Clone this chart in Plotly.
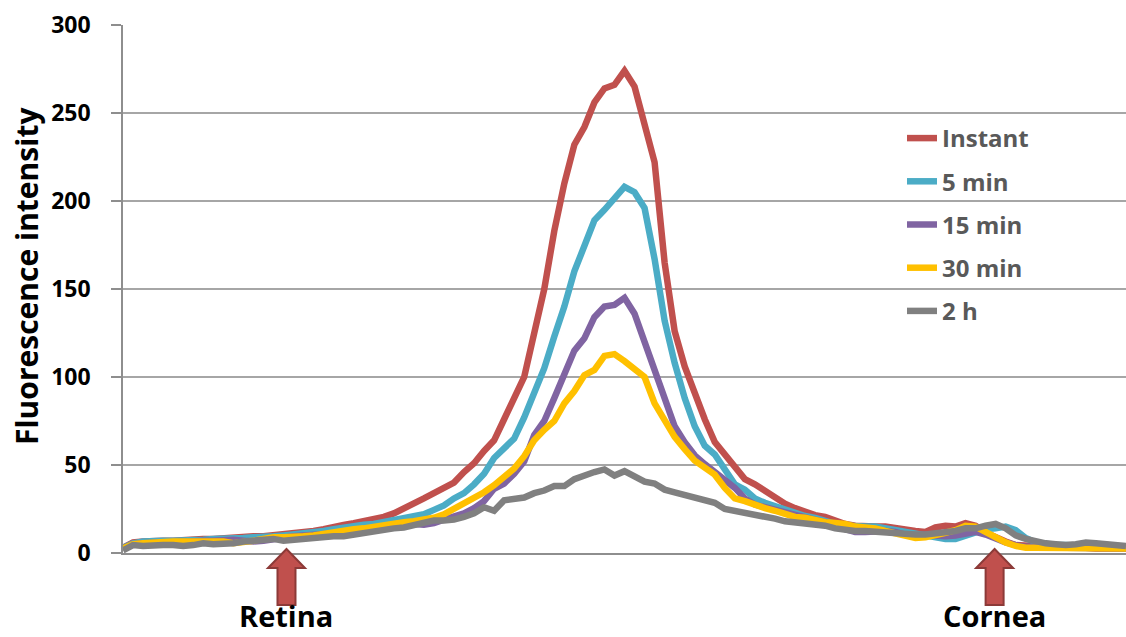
import plotly.graph_objects as go

# Sample positions along the scan line (retina -> cornea)
position = list(range(101))

instant = [3, 6, 6.5, 7, 7, 7, 7.5, 7.5, 8, 8,
           8.5, 8.5, 9, 9.5, 9.5, 10, 10.5, 11, 12, 12.5,
           13.5, 15, 16, 17, 18, 19, 20.5, 22.5, 25, 28,
           31, 34, 37, 40, 46, 51, 58, 64, 76, 87,
           100, 125, 150, 183, 210, 232, 242, 256, 264, 266,
           274, 265, 245, 222, 165, 126, 106, 90, 76, 63,
           56, 49, 42, 39, 35, 31, 28, 25.5, 23, 21.5,
           20.5, 18, 16.5, 15.5, 15, 15, 15, 14, 13, 12.5,
           12, 14.5, 15.5, 15, 17, 15.5, 11.5, 8.5, 6.5, 4.5,
           4, 3.5, 3.5, 3.5, 3.5, 3, 3, 2.5, 2.5, 2.5, 2.5]

min5 = [3, 5.5, 6.5, 7, 7, 7, 7, 7.5, 7.5, 8,
        8, 8.5, 8.5, 9, 9, 9.5, 10, 10.5, 11, 11.5,
        12.5, 13.5, 14.5, 15.5, 16, 16.5, 17.5, 18.5, 20, 21,
        22, 24.5, 27, 31, 34, 39, 45, 54, 59, 65,
        77, 90, 105, 123, 140, 160, 174, 189, 195, 201,
        208, 205, 196, 167, 132, 108, 88, 72, 61, 56,
        47, 39, 36, 31, 28.5, 26.5, 24.5, 22.5, 21, 20,
        18, 16.5, 15.5, 15, 15, 15, 14, 13, 11.5, 10.5,
        10, 9, 8, 8, 10, 12, 13.5, 14, 15, 13,
        8.5, 6, 5, 4.5, 4.5, 4, 4, 4, 3.5, 3.5, 3.5]

min15 = [2.5, 5, 5.5, 6, 6, 6, 6.5, 6.5, 7, 7,
         7.5, 7.5, 7, 6.5, 7, 8, 8.5, 9.5, 10, 10.5,
         11, 11, 11.5, 12, 12, 13, 14, 15, 15.5, 16.5,
         16, 17, 19, 20.5, 22.5, 25.5, 29.5, 36.5, 39.5, 45,
         52, 67, 75, 88, 102, 115, 122, 134, 140, 141,
         145, 136, 120, 104, 86, 72, 63, 55.5, 50.5, 46,
         42, 37, 31, 27.5, 26, 24.5, 23, 21.5, 20, 18.5,
         17.5, 16, 13.5, 12, 12, 12.5, 12.5, 12, 10.5, 10,
         10.5, 10, 9.5, 10, 11, 12, 10.5, 8, 6, 4.5,
         3.5, 3.5, 3, 3, 3, 3, 3, 2.5, 2.5, 2.5, 2.5]

min30 = [2.5, 5, 5.5, 6, 6, 6.5, 6.5, 6.5, 7, 7,
         6.5, 5.5, 6, 7, 8, 9, 9, 9, 9.5, 10,
         11, 12, 13, 13.5, 14, 15, 15.5, 16.5, 17.5, 18,
         19, 20, 22, 25, 27.5, 31, 34.5, 38.5, 43, 48,
         55, 64, 70, 75, 85, 92, 101, 104, 112, 113,
         109, 105, 100, 85, 76, 66, 59, 52.5, 48.5, 44.5,
         37, 31, 29.5, 27, 25.5, 24, 22, 20.5, 20, 18.5,
         17.5, 17, 16.5, 15, 14.5, 14, 12.5, 11, 9.5, 8.5,
         9, 10, 11.5, 13, 15.5, 15, 12, 8.5, 6, 4,
         3, 3, 3, 3, 3, 3, 3, 3, 2.5, 2.5, 2.5]

h2 = [1.5, 4.5, 4, 4.5, 4.5, 4.5, 4, 4.5, 5.5, 5,
      5, 5.5, 6.5, 7, 7.5, 8, 7, 7.5, 8.5, 9,
      9.5, 9.5, 9.5, 10.5, 11, 12, 13, 14, 14.5, 16,
      17.5, 18.5, 18.5, 19, 20.5, 22.5, 26, 24, 30, 31,
      31.5, 34, 35.5, 38, 38, 42, 44.5, 46, 47.5, 44,
      46.5, 43, 40.5, 39.5, 36, 34.5, 33, 31, 29.5, 28.5,
      25, 24, 23, 22, 20.5, 19.5, 18, 17.5, 16.5, 16,
      15.5, 14, 13, 12.5, 12.5, 12, 12, 11.5, 10.5, 10.5,
      10.5, 11, 11.5, 12.5, 14, 14, 15.5, 16.5, 14, 10,
      8, 6.5, 5.5, 5, 4.5, 5, 6, 5.5, 5, 4.5, 4]

series_names = ["Instant", "5 min", "15 min", "30 min", "2 h"]
series_values = [instant, min5, min15, min30, h2]
series_colors = ["#C0504D", "#4BACC6", "#8064A2", "#FFC000", "#808080"]

y_ticks = [0, 50, 100, 150, 200, 250, 300]
landmark_labels = ["Retina", "Cornea"]
landmark_positions = [16.3, 86.9]

X_RANGE = [0, 100]
W, H = 1126, 637
M_L, M_R, M_T, M_B = 123, 0, 25, 84
PLOT_W = W - M_L - M_R
PLOT_H = H - M_T - M_B

BOLD = "Open Sans"

fig = go.Figure()
for name, vals, col in zip(series_names, series_values, series_colors):
    fig.add_trace(go.Scatter(
        x=position, y=vals, mode="lines", name=name, legendgroup=name,
        line=dict(color=col, width=6.5, shape="linear"),
        hoverinfo="skip",
    ))


def to_paper_y(px_from_top):
    return (M_T + PLOT_H - px_from_top) / PLOT_H


# Block arrows pointing up at the landmarks, labelled underneath
shapes = []
annotations = []
for label, pos in zip(landmark_labels, landmark_positions):
    cx = (pos - X_RANGE[0]) / (X_RANGE[1] - X_RANGE[0])
    hw_head, hw_shaft = 18.5 / PLOT_W, 9 / PLOT_W
    y_tip, y_base, y_bot = to_paper_y(549), to_paper_y(568), to_paper_y(605)
    path = (f"M{cx},{y_tip} L{cx + hw_head},{y_base} L{cx + hw_shaft},{y_base} "
            f"L{cx + hw_shaft},{y_bot} L{cx - hw_shaft},{y_bot} "
            f"L{cx - hw_shaft},{y_base} L{cx - hw_head},{y_base} Z")
    shapes.append(dict(type="path", xref="paper", yref="paper", path=path,
                       fillcolor="#C0504D", line=dict(color="#8C3A38", width=2),
                       layer="above"))
    annotations.append(dict(x=pos, xref="x", y=to_paper_y(636), yref="paper",
                            text=f"<b>{label}</b>", showarrow=False,
                            xanchor="center", yanchor="bottom",
                            borderpad=0,
                            font=dict(family=BOLD, size=29, color="#000000")))

annotations.append(dict(x=-97 / PLOT_W, xref="paper", y=to_paper_y(276), yref="paper",
                        text="<b>Fluorescence intensity</b>", textangle=-90,
                        showarrow=False, xanchor="center", yanchor="middle",
                        font=dict(family=BOLD, size=30, color="#000000")))

fig.update_layout(
    width=W, height=H,
    margin=dict(l=M_L, r=M_R, t=M_T, b=M_B, pad=0),
    paper_bgcolor="white", plot_bgcolor="white",
    showlegend=True,
    legend=dict(x=(902 - M_L) / PLOT_W, xanchor="left",
                y=to_paper_y(116), yanchor="top",
                bgcolor="rgba(0,0,0,0)", borderwidth=0,
                traceorder="grouped", tracegroupgap=9,
                font=dict(family=BOLD, size=24, color="#595959", weight="bold"),
                itemwidth=30),
    shapes=shapes,
    annotations=annotations,
    xaxis=dict(range=X_RANGE, showgrid=False, zeroline=False,
               showticklabels=False, ticks="",
               showline=True, linecolor="#8E8E8E", linewidth=1.5, fixedrange=True),
    yaxis=dict(range=[0, 300], tickvals=y_ticks,
               ticktext=[f"<b>{v}</b>" for v in y_ticks],
               showgrid=True, gridcolor="#A6A6A6", gridwidth=1.5, zeroline=False,
               showline=True, linecolor="#8E8E8E", linewidth=1.5,
               ticks="outside", ticklen=10, tickcolor="#8E8E8E", tickwidth=1.5,
               ticklabelstandoff=16,
               tickfont=dict(family=BOLD, size=23, color="#000000"),
               fixedrange=True),
)

fig.write_html("out.html")
